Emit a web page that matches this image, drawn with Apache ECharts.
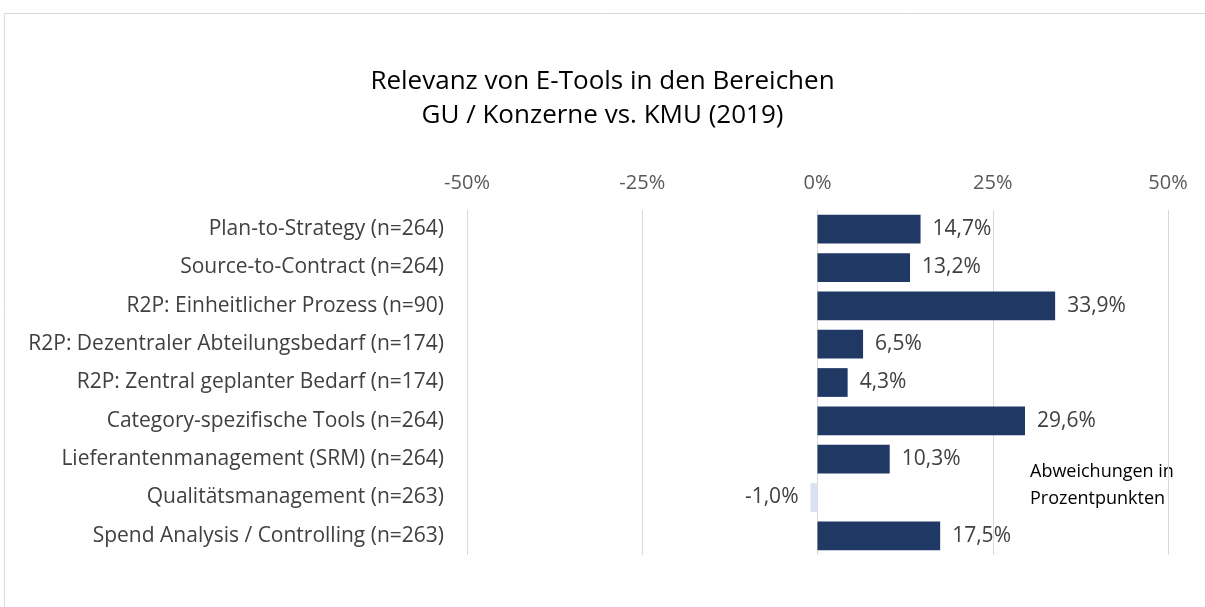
<!DOCTYPE html>
<html><head><meta charset="utf-8">
<script src="https://cdn.jsdelivr.net/npm/echarts@6/dist/echarts.min.js"></script>
<style>html,body{margin:0;padding:0;background:#fff}#c{width:1205px;height:607px}</style>
</head><body><div id="c"></div>
<script>
const categories = [
  "Plan-to-Strategy (n=264)",
  "Source-to-Contract (n=264)",
  "R2P: Einheitlicher Prozess (n=90)",
  "R2P: Dezentraler Abteilungsbedarf (n=174)",
  "R2P: Zentral geplanter Bedarf (n=174)",
  "Category-spezifische Tools (n=264)",
  "Lieferantenmanagement (SRM) (n=264)",
  "Qualitätsmanagement (n=263)",
  "Spend Analysis / Controlling (n=263)"
];
const values = [14.7, 13.2, 33.9, 6.5, 4.3, 29.6, 10.3, -1.0, 17.5];
const titleLines = ["Relevanz von E-Tools in den Bereichen", "GU / Konzerne vs. KMU (2019)"];
const noteLines = ["Abweichungen in", "Prozentpunkten"];

const FONT = "Open Sans";
const chart = echarts.init(document.getElementById('c'), null, {renderer: 'canvas'});
chart.setOption({
  animation: false,
  backgroundColor: '#fff',
  title: {
    text: titleLines.join('\n'),
    left: 'center', top: 60,
    textStyle: {fontFamily: FONT, fontSize: 26, fontWeight: 'normal', color: '#000', lineHeight: 34}
  },
  grid: {left: 467, right: 37, top: 210, bottom: 52},
  xAxis: {
    type: 'value', min: -50, max: 50, interval: 25, position: 'top',
    axisLine: {show: false}, axisTick: {show: false},
    splitLine: {lineStyle: {color: '#d9d9d9', width: 1}},
    axisLabel: {formatter: v => v + '%', fontFamily: FONT, fontSize: 20, color: '#595959', margin: 17}
  },
  yAxis: {
    type: 'category', data: categories, inverse: true,
    axisLine: {show: false}, axisTick: {show: false},
    axisLabel: {fontFamily: FONT, fontSize: 21, color: '#404040', margin: 23}
  },
  series: [{
    type: 'bar', barCategoryGap: '25%',
    data: values.map(v => ({
      value: v,
      itemStyle: {color: v < 0 ? '#dae3f3' : '#1f3864'},
      label: {position: v < 0 ? 'left' : 'right'}
    })),
    label: {
      show: true, distance: 12, fontFamily: FONT, fontSize: 21, color: '#404040',
      formatter: p => p.value.toFixed(1).replace('.', ',') + '%'
    }
  }],
  graphic: [
    {type: 'rect', shape: {x: 4.5, y: 13.5, width: 1220, height: 620}, style: {fill: 'none', stroke: '#d9d9d9', lineWidth: 1}, silent: true},
    {type: 'text', left: 1030, top: 458, style: {text: noteLines.join('\n'), fontFamily: FONT, fontSize: 18, lineHeight: 27, fill: '#000'}}
  ]
});
</script></body></html>
